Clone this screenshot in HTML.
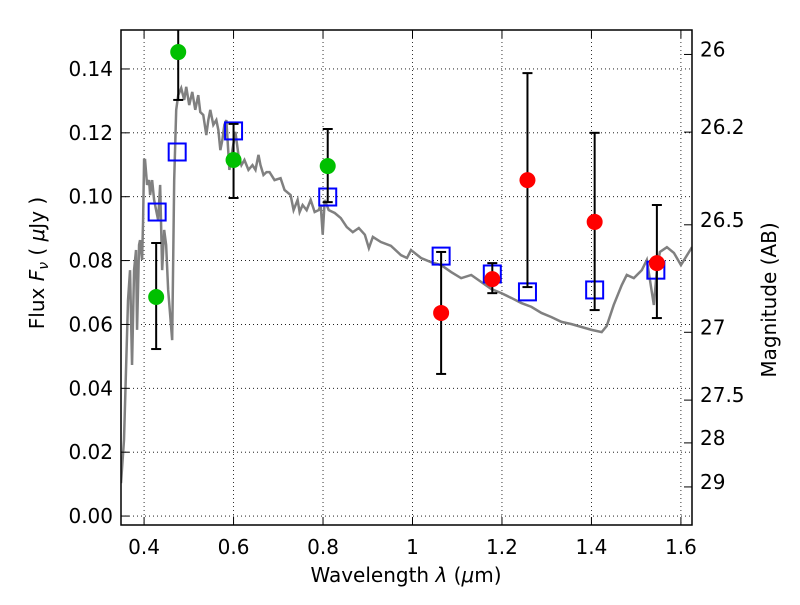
<!DOCTYPE html>
<html><head><meta charset="utf-8"><style>
body{margin:0;background:#fff;width:800px;height:600px;overflow:hidden}
svg text{font-family:"DejaVu Sans","Liberation Sans",sans-serif;font-size:20px;fill:#000}
</style></head><body>
<svg id="chart" width="800" height="600" xmlns="http://www.w3.org/2000/svg">
<g id="grid"></g>
<g id="spec"></g>
<g id="marks"></g>
<g id="axes"></g>
</svg>
<script>
const specW=[0.3484,0.3551,0.3641,0.3686,0.3731,0.3776,0.382,0.3843,0.3888,0.391,0.3955,0.3978,0.4,0.4022,0.4067,0.4112,0.4135,0.418,0.4224,0.4269,0.4314,0.4359,0.4404,0.4449,0.4493,0.4538,0.4628,0.4673,0.4718,0.4763,0.483,0.4897,0.4942,0.5009,0.5077,0.5144,0.5211,0.5256,0.5323,0.5391,0.5436,0.548,0.5548,0.5615,0.566,0.5705,0.575,0.5795,0.5839,0.5907,0.5974,0.6041,0.6109,0.6176,0.6243,0.6333,0.6423,0.649,0.6557,0.6602,0.6669,0.6737,0.6804,0.6916,0.7051,0.714,0.7275,0.7342,0.7432,0.7477,0.7544,0.7634,0.7724,0.7813,0.7903,0.7948,0.7993,0.8038,0.8127,0.8262,0.8397,0.8531,0.8666,0.88,0.8935,0.9025,0.9114,0.9294,0.9518,0.9743,0.9877,0.9967,1.0191,1.0415,1.064,1.0864,1.1088,1.1313,1.1537,1.1761,1.1986,1.221,1.2434,1.2659,1.2883,1.3107,1.3332,1.3556,1.378,1.4004,1.4229,1.4341,1.4498,1.4677,1.479,1.4947,1.5126,1.5238,1.5395,1.5463,1.553,1.5687,1.5844,1.6001,1.6248];
const specF=[0.0103,0.0238,0.0676,0.077,0.0473,0.077,0.0833,0.0583,0.0849,0.0864,0.0802,0.0927,0.1115,0.1115,0.1037,0.1052,0.1005,0.1052,0.099,0.0958,0.0927,0.1037,0.077,0.0896,0.0849,0.0708,0.0551,0.1052,0.1272,0.1318,0.134,0.1303,0.1344,0.1287,0.1328,0.1272,0.1318,0.1265,0.1256,0.1193,0.124,0.1272,0.1225,0.124,0.1209,0.1146,0.1178,0.1225,0.124,0.1084,0.1146,0.1203,0.1131,0.1099,0.1115,0.1084,0.1099,0.1084,0.1131,0.1099,0.1068,0.1077,0.1077,0.1052,0.1058,0.1021,0.1005,0.0958,0.099,0.0952,0.0974,0.0958,0.099,0.0952,0.0958,0.0974,0.0881,0.0990,0.0958,0.0949,0.0933,0.0905,0.0889,0.0902,0.0881,0.0839,0.0874,0.0858,0.0846,0.0817,0.0808,0.0833,0.0808,0.0795,0.0786,0.0764,0.0745,0.0755,0.0733,0.0711,0.0698,0.0683,0.0667,0.0655,0.0636,0.0623,0.0608,0.0601,0.0592,0.0583,0.0576,0.0595,0.0661,0.0723,0.0755,0.0745,0.077,0.0802,0.0661,0.077,0.0827,0.0842,0.0824,0.0786,0.0842];
const greenW=[0.427,0.4763,0.600,0.8105];
const greenF=[0.0686,0.1453,0.1115,0.1096];
const greenLo=[0.0523,0.1303,0.0996,0.0983];
const greenHi=[0.0855,0.165,0.1228,0.1212];
const redW=[1.064,1.1784,1.257,1.4072,1.5463];
const redF=[0.0636,0.0742,0.1052,0.0921,0.0792];
const redLo=[0.0445,0.0698,0.0717,0.0645,0.062];
const redHi=[0.0827,0.0792,0.1387,0.12,0.0974];
const modelW=[0.4292,0.474,0.600,0.8105,1.064,1.1784,1.257,1.4072,1.544];
const modelF=[0.0952,0.114,0.1206,0.0999,0.0814,0.0758,0.0702,0.0708,0.077];
const xTicks=[0.4,0.6,0.8,1.0,1.2,1.4,1.6];
const xTickLabels=["0.4","0.6","0.8","1","1.2","1.4","1.6"];
const yTicks=[0,0.02,0.04,0.06,0.08,0.10,0.12,0.14];
const yTickLabels=["0.00","0.02","0.04","0.06","0.08","0.10","0.12","0.14"];
const magTicks=[26,26.2,26.5,27,27.5,28,29];
const magTickLabels=["26","26.2","26.5","27","27.5","28","29"];

const L=121,R=692,T=30,B=525;
const xmin=0.3484,xmax=1.6248,ymin=-0.0028,ymax=0.1522;
const X=w=>L+(w-xmin)/(xmax-xmin)*(R-L);
const Y=f=>B-(f-ymin)/(ymax-ymin)*(B-T);
const magToF=m=>Math.pow(10,(23.9-m)/2.5);
const NS="http://www.w3.org/2000/svg";
function mk(parent,tag,attrs){const e=document.createElementNS(NS,tag);for(const k in attrs)e.setAttribute(k,attrs[k]);parent.appendChild(e);return e;}
const grid=document.getElementById('grid'),spec=document.getElementById('spec'),marks=document.getElementById('marks'),axes=document.getElementById('axes');
const defs=mk(document.getElementById('chart'),'defs',{});
const cp=mk(defs,'clipPath',{id:'clip'});mk(cp,'rect',{x:L,y:T,width:R-L,height:B-T});
spec.setAttribute('clip-path','url(#clip)');marks.setAttribute('clip-path','url(#clip)');
xTicks.forEach((t,i)=>{const x=X(t);
 const g=mk(grid,'line',{x1:x,x2:x,y1:T,y2:B,stroke:'#000','stroke-width':0.8,'stroke-dasharray':'1,3'});
 
 mk(axes,'line',{x1:x,x2:x,y1:B,y2:B-8,stroke:'#000'});mk(axes,'line',{x1:x,x2:x,y1:T,y2:T+8,stroke:'#000'});
 const tx=mk(axes,'text',{x:x,y:B+29,'text-anchor':'middle'});tx.textContent=xTickLabels[i];
 });
yTicks.forEach((t,i)=>{const y=Y(t);
 const g=mk(grid,'line',{x1:L,x2:R,y1:y,y2:y,stroke:'#000','stroke-width':0.8,'stroke-dasharray':'1,3'});
 
 mk(axes,'line',{x1:L,x2:L+8,y1:y,y2:y,stroke:'#000'});
 const tx=mk(axes,'text',{x:L-8,y:y+7,'text-anchor':'end'});tx.textContent=yTickLabels[i];
 });
magTicks.forEach((m,i)=>{const y=Y(magToF(m));
 mk(axes,'line',{x1:R,x2:R-8,y1:y,y2:y,stroke:'#000'});
 const tx=mk(axes,'text',{x:R+8,y:y+2,'text-anchor':'start'});tx.textContent=magTickLabels[i];
 });
const pl=mk(spec,'polyline',{points:specW.map((w,i)=>X(w)+','+Y(specF[i])).join(' '),fill:'none',stroke:'#808080','stroke-width':2.5});

function errbar(w,lo,hi){const x=X(w);
 mk(marks,'line',{x1:x,x2:x,y1:Y(lo),y2:Y(hi),stroke:'#000','stroke-width':2});
 mk(marks,'line',{x1:x-5,x2:x+5,y1:Y(lo),y2:Y(lo),stroke:'#000','stroke-width':2});
 mk(marks,'line',{x1:x-5,x2:x+5,y1:Y(hi),y2:Y(hi),stroke:'#000','stroke-width':2});}
modelW.forEach((w,i)=>{const s=mk(marks,'rect',{x:X(w)-8.5,y:Y(modelF[i])-8.5,width:17,height:17,fill:'none',stroke:'#0000ff','stroke-width':2});
 });
greenW.forEach((w,i)=>{errbar(w,greenLo[i],greenHi[i]);const c=mk(marks,'circle',{cx:X(w),cy:Y(greenF[i]),r:8,fill:'#00c000'});
 });
redW.forEach((w,i)=>{errbar(w,redLo[i],redHi[i]);const c=mk(marks,'circle',{cx:X(w),cy:Y(redF[i]),r:8,fill:'#ff0000'});
 });
const fr=mk(axes,'rect',{x:L,y:T,width:R-L,height:B-T,fill:'none',stroke:'#000','stroke-width':1.5});

let t=mk(axes,'text',{x:406,y:582,'text-anchor':'middle'});t.innerHTML='Wavelength  <tspan font-style="italic">λ</tspan> (<tspan font-style="italic">μ</tspan>m)';
t.setAttribute('xml:space','preserve');

t=mk(axes,'text',{x:0,y:0,'text-anchor':'middle',transform:'translate(44,263) rotate(-90)'});t.setAttribute('xml:space','preserve');t.innerHTML='Flux  <tspan font-style="italic">F</tspan><tspan font-style="italic" font-size="14" dy="4">ν</tspan><tspan dy="-4">  ( </tspan><tspan font-style="italic">μ</tspan>Jy )';

t=mk(axes,'text',{x:0,y:0,'text-anchor':'middle',transform:'translate(776,300) rotate(-90)'});t.textContent='Magnitude (AB)';

</script>
</body></html>
